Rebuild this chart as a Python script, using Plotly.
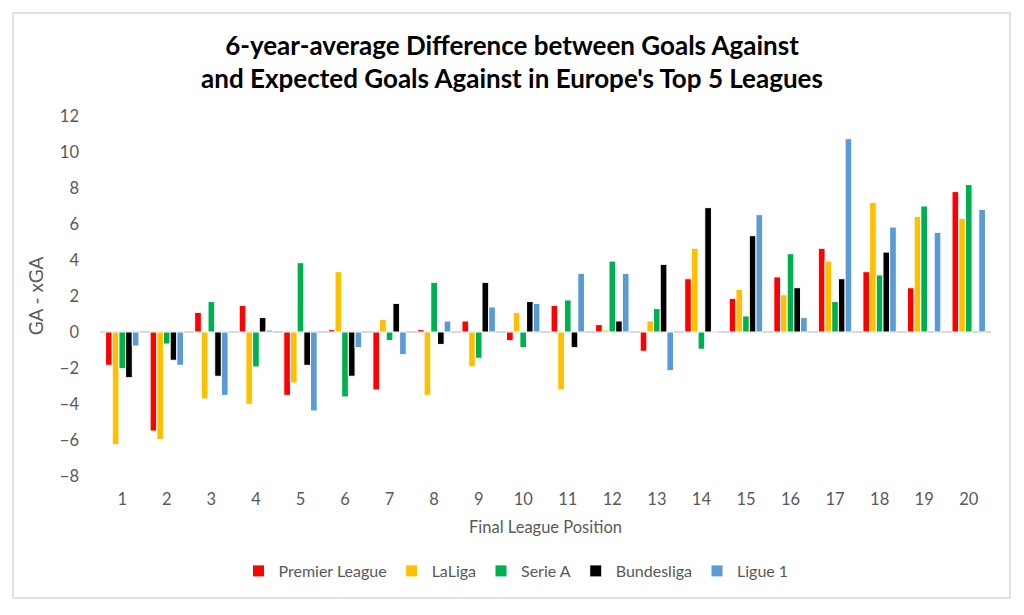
import plotly.graph_objects as go

positions = [str(i) for i in range(1, 21)]
premier_league = [-1.85, -5.5, 1.09, 1.48, -3.52, 0.13, -3.22, 0.13, 0.61, -0.48,
                  1.48, 0.41, -1.07, 2.96, 1.87, 3.06, 4.65, 3.35, 2.46, 7.8]
laliga = [-6.26, -5.98, -3.72, -4.02, -2.83, 3.35, 0.7, -3.52, -1.94, 1.09,
          -3.22, 0.11, 0.61, 4.65, 2.37, 2.07, 3.94, 7.2, 6.43, 6.31]
serie_a = [-2.04, -0.67, 1.69, -1.94, 3.85, -3.61, -0.48, 2.76, -1.46, -0.87,
           1.78, 3.94, 1.3, -0.96, 0.89, 4.35, 1.69, 3.17, 7.0, 8.19]
bundesliga = [-2.54, -1.57, -2.46, 0.8, -1.85, -2.46, 1.59, -0.69, 2.76, 1.69,
              -0.87, 0.61, 3.76, 6.91, 5.35, 2.46, 2.96, 4.44, None, None]
ligue_1 = [-0.78, -1.85, -3.52, 0.11, -4.39, -0.87, -1.26, 0.61, 1.39, 1.59,
           3.26, 3.26, -2.15, 0.05, 6.52, 0.8, 10.74, 5.83, 5.54, 6.81]

series = [
    ("Premier League", premier_league, "#FF0000"),
    ("LaLiga", laliga, "#FFC000"),
    ("Serie A", serie_a, "#00B050"),
    ("Bundesliga", bundesliga, "#000000"),
    ("Ligue 1", ligue_1, "#5B9BD5"),
]

FONT = "Lato"
GRAY = "#595959"

fig = go.Figure()
for name, vals, color in series:
    fig.add_trace(go.Bar(
        x=positions, y=vals, name=name,
        marker=dict(color=color, line=dict(color="white", width=1)),
    ))

# page body has an 8px margin; work in window pixels and shift
OFF = 8
W, H = 1024 - OFF, 615 - OFF
L, R, T, B = 100 - OFF, 991 - OFF, 116 - OFF, 476 - OFF

def px_x(p):
    return (p - OFF - L) / (R - L)

def px_y(p):
    return (B - (p - OFF)) / (B - T)

fig.add_shape(type="rect", xref="paper", yref="paper",
              x0=px_x(13), x1=px_x(1010), y0=px_y(598), y1=px_y(13),
              line=dict(color="#D9D9D9", width=1.5), fillcolor="rgba(0,0,0,0)",
              layer="below")

fig.update_layout(
    width=W, height=H,
    margin=dict(l=L, r=W - R, t=T, b=H - B, pad=0),
    paper_bgcolor="white", plot_bgcolor="white",
    barmode="group", bargap=0.25, bargroupgap=0.0,
    title=dict(
        text="<b>6-year-average Difference between Goals Against<br>and Expected Goals Against in Europe's Top 5 Leagues</b>",
        x=px_x(512), xanchor="center", xref="paper",
        y=1 - (54.5 - OFF) / H, yanchor="middle", yref="container",
        font=dict(family=FONT, size=26, color="black"),
    ),
    font=dict(family=FONT, color=GRAY, size=16),
    xaxis=dict(
        showline=False, showgrid=False, zeroline=False, ticks="",
        ticklabelstandoff=11,
        tickfont=dict(family=FONT, size=16.5, color=GRAY),
        title=dict(text="Final League Position", standoff=13,
                   font=dict(family=FONT, size=16.5, color=GRAY)),
    ),
    yaxis=dict(
        range=[-8, 12], dtick=2, showgrid=False, showline=False, ticks="",
        zeroline=True, zerolinecolor="#D9D9D9", zerolinewidth=1.5,
        ticklabelstandoff=20,
        tickfont=dict(family=FONT, size=16.5, color=GRAY),
        title=dict(text="GA - xGA", standoff=11,
                   font=dict(family=FONT, size=19, color=GRAY)),
    ),
    legend=dict(
        orientation="h", x=px_x(516), xanchor="center",
        y=px_y(571), yanchor="middle",
        font=dict(family=FONT, size=16, color=GRAY),
        itemwidth=30, traceorder="normal",
    ),
)

fig.write_html("out.html")
